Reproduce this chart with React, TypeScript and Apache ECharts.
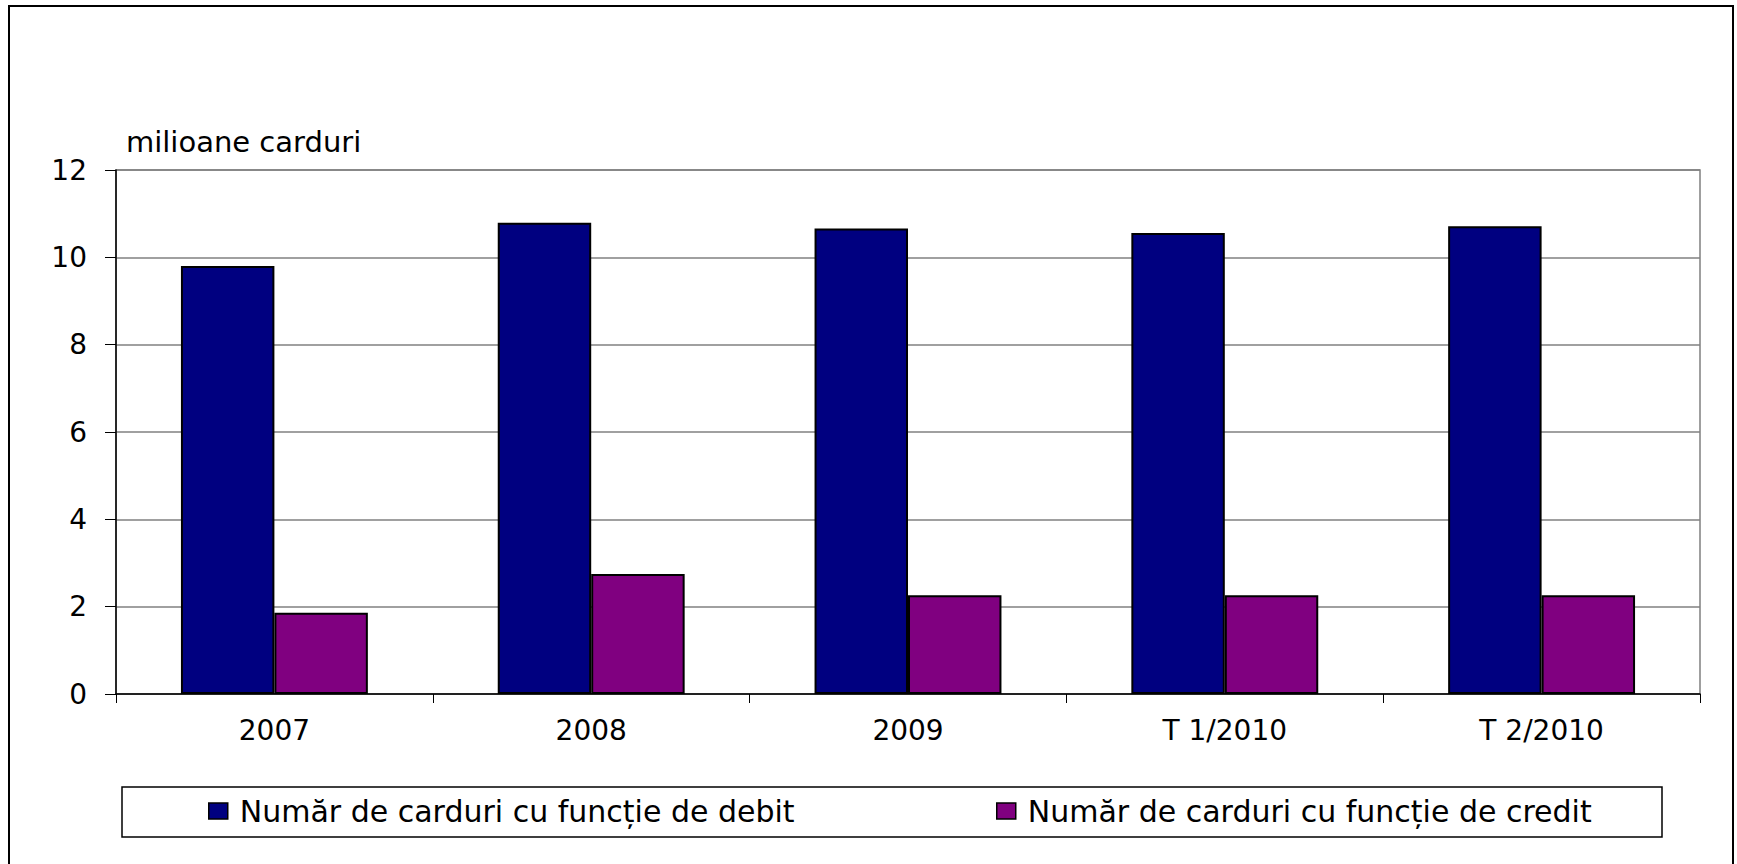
import React, { useEffect, useRef } from "react";
import * as echarts from "echarts";

const categories = ["2007", "2008", "2009", "T 1/2010", "T 2/2010"];
const debitValues = [9.8, 10.79, 10.66, 10.56, 10.71];
const creditValues = [1.86, 2.75, 2.26, 2.26, 2.26];
const seriesNames = [
  "Număr de carduri cu funcție de debit",
  "Număr de carduri cu funcție de credit",
];
const yAxisName = "milioane carduri";

const FONT = "'DejaVu Sans', 'Liberation Sans', Arial, sans-serif";

export default function App() {
  const ref = useRef<HTMLDivElement>(null);

  useEffect(() => {
    if (!ref.current) return;
    const chart = echarts.init(ref.current, undefined, { renderer: "svg" });
    const legendText = { color: "#000", fontSize: 30, fontFamily: FONT, padding: [0, 0, 0, 7] };
    const legendCommon = {
      top: 796,
      padding: 0,
      icon: "rect",
      itemWidth: 19,
      itemHeight: 16,
      itemStyle: { borderColor: "#000", borderWidth: 1.5 },
      textStyle: legendText,
    };
    chart.setOption({
      animation: false,
      backgroundColor: "#fff",
      textStyle: { fontFamily: FONT, color: "#000" },
      grid: {
        left: 116,
        right: 37,
        top: 170,
        bottom: 170,
        show: true,
        borderColor: "#808080",
        borderWidth: 1.5,
        containLabel: false,
      },
      graphic: [
        {
          type: "rect",
          shape: { x: 9, y: 6, width: 1724, height: 900 },
          style: { fill: "none", stroke: "#000", lineWidth: 2 },
          silent: true,
        },
        {
          type: "rect",
          shape: { x: 122, y: 787, width: 1540, height: 50 },
          style: { fill: "none", stroke: "#000", lineWidth: 1.5 },
          silent: true,
        },
      ],
      legend: [
        { ...legendCommon, data: [seriesNames[0]], left: 208 },
        { ...legendCommon, data: [seriesNames[1]], left: 996 },
      ],
      xAxis: {
        type: "category",
        data: categories,
        boundaryGap: true,
        axisLine: { show: true, lineStyle: { color: "#000", width: 1.5 } },
        axisTick: { show: true, length: 9, alignWithLabel: false, lineStyle: { color: "#000" } },
        axisLabel: { color: "#000", fontSize: 28, fontFamily: FONT, margin: 22 },
        splitLine: { show: false },
      },
      yAxis: {
        type: "value",
        min: 0,
        max: 12,
        interval: 2,
        name: yAxisName,
        nameLocation: "end",
        nameGap: 14,
        nameTextStyle: {
          color: "#000",
          fontSize: 29,
          fontFamily: FONT,
          align: "left",
          verticalAlign: "bottom",
          padding: [0, 0, 0, 10],
        },
        axisLine: { show: true, lineStyle: { color: "#000", width: 1.5 } },
        axisTick: { show: true, length: 11, lineStyle: { color: "#000" } },
        axisLabel: { color: "#000", fontSize: 28, fontFamily: FONT, margin: 29 },
        splitLine: { show: true, lineStyle: { color: "#808080", width: 1.5 } },
      },
      series: [
        {
          name: seriesNames[0],
          type: "bar",
          data: debitValues,
          barGap: "0%",
          barCategoryGap: "41%",
          itemStyle: { color: "#000080", borderColor: "#000", borderWidth: 2 },
        },
        {
          name: seriesNames[1],
          type: "bar",
          data: creditValues,
          barGap: "0%",
          barCategoryGap: "41%",
          itemStyle: { color: "#800080", borderColor: "#000", borderWidth: 2 },
        },
      ],
    });
    return () => chart.dispose();
  }, []);

  return (
    <div
      ref={ref}
      style={{ position: "fixed", left: 0, top: 0, width: 1737, height: 864, background: "#fff" }}
    />
  );
}
